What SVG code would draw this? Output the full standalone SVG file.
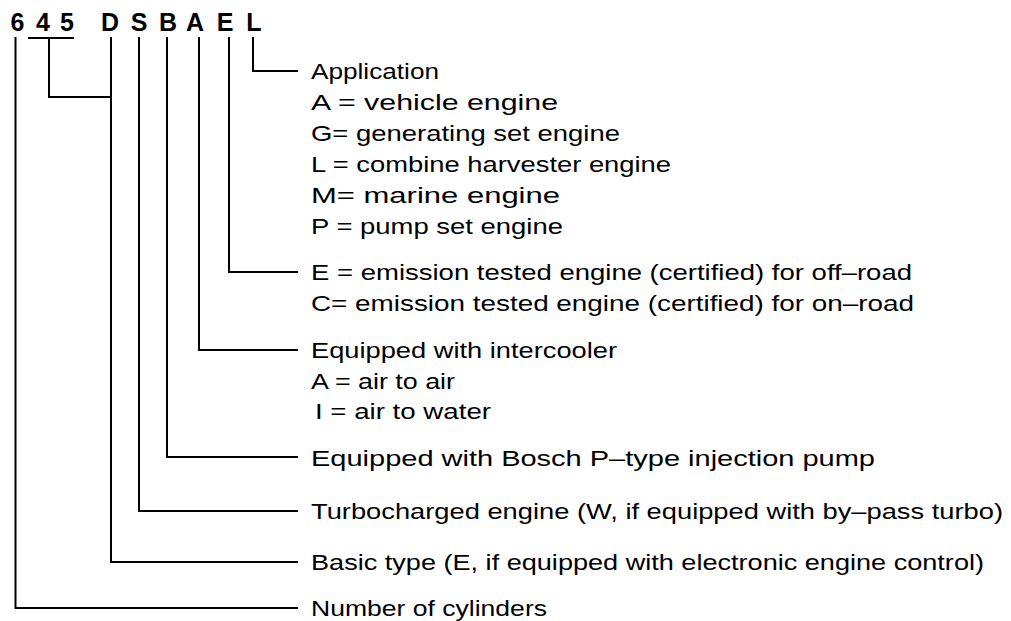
<svg xmlns="http://www.w3.org/2000/svg" width="1011" height="621" viewBox="0 0 1011 621">
<style>
.code{font-family:"Liberation Sans",Arial,sans-serif;font-weight:bold;font-size:25px;fill:#000;text-anchor:middle}
.lbl{font-family:"Liberation Sans",Arial,sans-serif;font-size:21.5px;fill:#000}
.ln{fill:none;stroke:#000;stroke-width:2;stroke-linecap:square;stroke-linejoin:miter}
</style>
<rect width="1011" height="621" fill="#fff"/>
<g id="code">
<text class="code" x="17.5" y="31">6</text>
<text class="code" x="43" y="31">4</text>
<text class="code" x="67" y="31">5</text>
<text class="code" x="110" y="31">D</text>
<text class="code" x="139" y="31">S</text>
<text class="code" x="168" y="31">B</text>
<text class="code" x="195" y="31">A</text>
<text class="code" x="225" y="31">E</text>
<text class="code" x="254" y="31">L</text>
</g>
<g id="connectors">
<path class="ln" d="M253 38 V71 H297"/>
<path class="ln" d="M229 38 V272 H297"/>
<path class="ln" d="M199 38 V350 H297"/>
<path class="ln" d="M167 38 V457 H297"/>
<path class="ln" d="M139 38 V511 H297"/>
<path class="ln" d="M29 38 H73 M49 38 V97 H111"/>
<path class="ln" d="M111 38 V562 H297"/>
<path class="ln" d="M15.5 38 V608 H297"/>
</g>
<g id="application">
<text class="lbl" x="311" y="79" textLength="128" lengthAdjust="spacingAndGlyphs">Application</text>
<text class="lbl" x="311" y="110" textLength="247" lengthAdjust="spacingAndGlyphs">A = vehicle engine</text>
<text class="lbl" x="311" y="141" textLength="309" lengthAdjust="spacingAndGlyphs">G= generating set engine</text>
<text class="lbl" x="311" y="172" textLength="360" lengthAdjust="spacingAndGlyphs">L = combine harvester engine</text>
<text class="lbl" x="311" y="203" textLength="249" lengthAdjust="spacingAndGlyphs">M= marine engine</text>
<text class="lbl" x="311" y="234" textLength="252" lengthAdjust="spacingAndGlyphs">P = pump set engine</text>
</g>
<g id="emission">
<text class="lbl" x="311" y="280" textLength="601" lengthAdjust="spacingAndGlyphs">E = emission tested engine (certified) for off–road</text>
<text class="lbl" x="311" y="311" textLength="603" lengthAdjust="spacingAndGlyphs">C= emission tested engine (certified) for on–road</text>
</g>
<g id="intercooler">
<text class="lbl" x="311" y="358" textLength="306" lengthAdjust="spacingAndGlyphs">Equipped with intercooler</text>
<text class="lbl" x="311" y="389" textLength="144" lengthAdjust="spacingAndGlyphs">A = air to air</text>
<text class="lbl" x="315" y="419" textLength="176" lengthAdjust="spacingAndGlyphs">I = air to water</text>
</g>
<g id="pump">
<text class="lbl" x="311" y="466" textLength="564" lengthAdjust="spacingAndGlyphs">Equipped with Bosch P–type injection pump</text>
</g>
<g id="turbo">
<text class="lbl" x="311" y="519" textLength="692" lengthAdjust="spacingAndGlyphs">Turbocharged engine (W, if equipped with by–pass turbo)</text>
</g>
<g id="basic">
<text class="lbl" x="311" y="570" textLength="673" lengthAdjust="spacingAndGlyphs">Basic type (E, if equipped with electronic engine control)</text>
</g>
<g id="cylinders">
<text class="lbl" x="311" y="616" textLength="236" lengthAdjust="spacingAndGlyphs">Number of cylinders</text>
</g>
</svg>
